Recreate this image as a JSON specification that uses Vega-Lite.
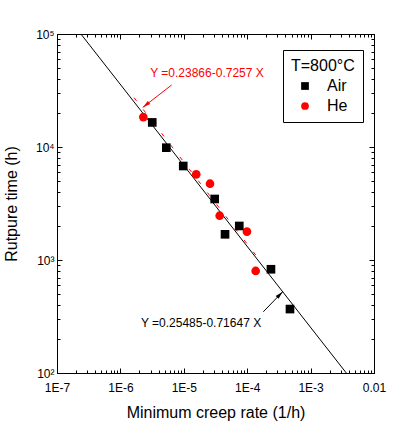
{
  "$schema": "https://vega.github.io/schema/vega-lite/v6.json",
  "width": 317,
  "height": 339,
  "autosize": {"type": "none"},
  "padding": {"left": 57, "top": 34, "right": 30, "bottom": 49},
  "background": "white",
  "config": {
    "view": {"stroke": "black", "strokeWidth": 1},
    "font": "Liberation Sans",
    "axis": {
      "grid": false,
      "domainColor": "black",
      "tickColor": "black",
      "labelColor": "black",
      "titleColor": "black",
      "labelFont": "Liberation Sans",
      "titleFont": "Liberation Sans",
      "labelFontSize": 12,
      "titleFontSize": 16,
      "titleFontWeight": "normal",
      "labelOverlap": false,
      "labelBound": false,
      "labelFlush": false
    }
  },
  "datasets": {
    "points": [
      {"rate": 0.0000023, "time": 18400, "gas": "He"},
      {"rate": 0.0000157, "time": 5730, "gas": "He"},
      {"rate": 0.0000259, "time": 4735, "gas": "He"},
      {"rate": 0.0000368, "time": 2466, "gas": "He"},
      {"rate": 0.000099, "time": 1781, "gas": "He"},
      {"rate": 0.000136, "time": 800, "gas": "He"},
      {"rate": 0.00000318, "time": 16500, "gas": "Air"},
      {"rate": 0.0000053, "time": 9860, "gas": "Air"},
      {"rate": 0.0000098, "time": 6790, "gas": "Air"},
      {"rate": 0.0000307, "time": 3467, "gas": "Air"},
      {"rate": 0.000075, "time": 2000, "gas": "Air"},
      {"rate": 0.0000447, "time": 1688, "gas": "Air"},
      {"rate": 0.000237, "time": 828, "gas": "Air"},
      {"rate": 0.000473, "time": 368, "gas": "Air"}
    ],
    "fits": [
      {"rate": 0.000000238, "time": 100000, "fit": "Air"},
      {"rate": 0.00366, "time": 100, "fit": "Air"},
      {"rate": 0.00000164, "time": 27350, "fit": "He"},
      {"rate": 0.00017, "time": 943, "fit": "He"}
    ],
    "notes": [
      {"rate": 0.0000232, "time": 45200, "text": "Y =0.23866-0.7257 X", "kind": "He"},
      {"rate": 0.0000187, "time": 279, "text": "Y =0.25485-0.71647 X", "kind": "Air"}
    ],
    "arrows": [
      {"rate": 0.00000644, "time": 35400, "rate2": 0.00000225, "time2": 22400, "kind": "He"},
      {"rate": 0.0001795, "time": 348, "rate2": 0.000363, "time2": 524, "kind": "Air"}
    ]
  },
  "layer": [
    {
      "data": {"name": "fits"},
      "transform": [{"filter": "datum.fit == 'Air'"}],
      "mark": {"type": "line", "color": "black", "strokeWidth": 1, "clip": true},
      "encoding": {
        "x": {
          "field": "rate", "type": "quantitative",
          "scale": {"type": "log", "domain": [1e-7, 0.01], "nice": false},
          "axis": {
            "orient": "bottom",
            "title": "Minimum creep rate (1/h)",
            "values": [1e-7,2e-7,3e-7,4e-7,5e-7,6e-7,7e-7,8e-7,9e-7,1e-6,2e-6,3e-6,4e-6,5e-6,6e-6,7e-6,8e-6,9e-6,1e-5,2e-5,3e-5,4e-5,5e-5,6e-5,7e-5,8e-5,9e-5,1e-4,2e-4,3e-4,4e-4,5e-4,6e-4,7e-4,8e-4,9e-4,1e-3,2e-3,3e-3,4e-3,5e-3,6e-3,7e-3,8e-3,9e-3,1e-2],
            "labelExpr": "abs(log(datum.value)/LN10 - round(log(datum.value)/LN10)) > 0.001 ? '' : (round(log(datum.value)/LN10) == -2 ? '0.01' : '1E' + round(log(datum.value)/LN10))",
            "tickSize": {"condition": {"test": "abs(log(datum.value)/LN10 - round(log(datum.value)/LN10)) < 0.001", "value": -5}, "value": -3},
            "labelPadding": 14,
            "titlePadding": 9
          }
        },
        "y": {
          "field": "time", "type": "quantitative",
          "scale": {"type": "log", "domain": [100, 100000], "nice": false},
          "axis": {
            "orient": "left",
            "title": "Rutpure time (h)",
            "values": [100,200,300,400,500,600,700,800,900,1000,2000,3000,4000,5000,6000,7000,8000,9000,10000,20000,30000,40000,50000,60000,70000,80000,90000,100000],
            "labelExpr": "abs(log(datum.value)/LN10 - round(log(datum.value)/LN10)) > 0.001 ? '' : (round(log(datum.value)/LN10) == 2 ? '10²' : round(log(datum.value)/LN10) == 3 ? '10³' : round(log(datum.value)/LN10) == 4 ? '10⁴' : '10⁵')",
            "tickSize": {"condition": {"test": "abs(log(datum.value)/LN10 - round(log(datum.value)/LN10)) < 0.001", "value": -5}, "value": -3},
            "labelPadding": 8,
            "titlePadding": 16
          }
        }
      }
    },
    {
      "data": {"name": "fits"},
      "transform": [{"filter": "datum.fit == 'He'"}],
      "mark": {"type": "line", "color": "red", "strokeWidth": 1, "strokeDash": [4, 11], "clip": true},
      "encoding": {
        "x": {
          "field": "rate", "type": "quantitative",
          "scale": {"type": "log", "domain": [1e-7, 0.01], "nice": false},
          "axis": {
            "orient": "top",
            "title": null,
            "labels": false,
            "values": [1e-7,2e-7,3e-7,4e-7,5e-7,6e-7,7e-7,8e-7,9e-7,1e-6,2e-6,3e-6,4e-6,5e-6,6e-6,7e-6,8e-6,9e-6,1e-5,2e-5,3e-5,4e-5,5e-5,6e-5,7e-5,8e-5,9e-5,1e-4,2e-4,3e-4,4e-4,5e-4,6e-4,7e-4,8e-4,9e-4,1e-3,2e-3,3e-3,4e-3,5e-3,6e-3,7e-3,8e-3,9e-3,1e-2],
            "tickSize": {"condition": {"test": "abs(log(datum.value)/LN10 - round(log(datum.value)/LN10)) < 0.001", "value": -5}, "value": -3}
          }
        },
        "y": {
          "field": "time", "type": "quantitative",
          "scale": {"type": "log", "domain": [100, 100000], "nice": false},
          "axis": {
            "orient": "right",
            "title": null,
            "labels": false,
            "values": [100,200,300,400,500,600,700,800,900,1000,2000,3000,4000,5000,6000,7000,8000,9000,10000,20000,30000,40000,50000,60000,70000,80000,90000,100000],
            "tickSize": {"condition": {"test": "abs(log(datum.value)/LN10 - round(log(datum.value)/LN10)) < 0.001", "value": -5}, "value": -3}
          }
        }
      }
    },
    {
      "data": {"name": "arrows"},
      "mark": {"type": "rule", "strokeWidth": 1},
      "encoding": {
        "x": {"field": "rate", "type": "quantitative", "axis": null},
        "y": {"field": "time", "type": "quantitative", "axis": null},
        "x2": {"field": "rate2"},
        "y2": {"field": "time2"},
        "color": {"condition": {"test": "datum.kind == 'He'", "value": "red"}, "value": "black"}
      }
    },
    {
      "data": {"name": "arrows"},
      "mark": {"type": "point", "filled": true, "opacity": 1, "size": 64, "shape": "M0,0L0.5,2L-0.5,2Z"},
      "encoding": {
        "x": {"field": "rate2", "type": "quantitative", "axis": null},
        "y": {"field": "time2", "type": "quantitative", "axis": null},
        "angle": {"condition": {"test": "datum.kind == 'He'", "value": 232}, "value": 44},
        "color": {"condition": {"test": "datum.kind == 'He'", "value": "red"}, "value": "black"}
      }
    },
    {
      "data": {"name": "points"},
      "mark": {"type": "point", "filled": true, "opacity": 1, "size": 75},
      "encoding": {
        "x": {"field": "rate", "type": "quantitative", "axis": null},
        "y": {"field": "time", "type": "quantitative", "axis": null},
        "color": {
          "field": "gas", "type": "nominal",
          "scale": {"domain": ["Air", "He"], "range": ["black", "red"]},
          "legend": {
            "title": "T=800°C",
            "orient": "none",
            "legendX": 226,
            "legendY": 16,
            "strokeColor": "black",
            "fillColor": "white",
            "padding": 8,
            "titleFont": "Liberation Sans",
            "titleFontSize": 16,
            "titleFontWeight": "normal",
            "titleColor": "black",
            "titlePadding": 4,
            "labelFont": "Liberation Sans",
            "labelFontSize": 16,
            "labelColor": "black",
            "symbolSize": 60,
            "symbolOffset": 6,
            "labelOffset": 14,
            "rowPadding": 4
          }
        },
        "shape": {
          "field": "gas", "type": "nominal",
          "scale": {"domain": ["Air", "He"], "range": ["square", "circle"]},
          "legend": {
            "title": "T=800°C",
            "orient": "none",
            "legendX": 226,
            "legendY": 16
          }
        }
      }
    },
    {
      "data": {"name": "notes"},
      "mark": {"type": "text", "font": "Liberation Sans", "fontSize": 12, "align": "center", "baseline": "middle"},
      "encoding": {
        "x": {"field": "rate", "type": "quantitative", "axis": null},
        "y": {"field": "time", "type": "quantitative", "axis": null},
        "text": {"field": "text"},
        "color": {"condition": {"test": "datum.kind == 'He'", "value": "red"}, "value": "black"}
      }
    }
  ],
  "resolve": {"axis": {"x": "independent", "y": "independent"}}
}
